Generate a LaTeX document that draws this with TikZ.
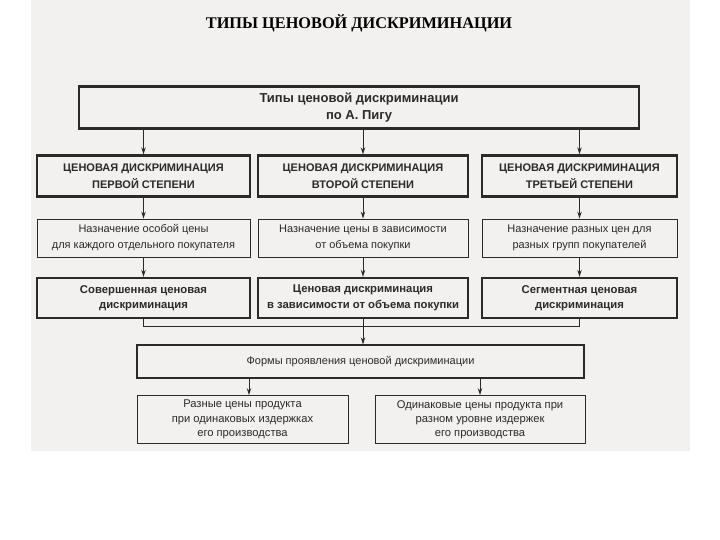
\documentclass[tikz,border=0pt]{standalone}
\usepackage{fontspec}
\setmainfont{Liberation Sans}
\newfontfamily\titlefont{Liberation Serif}
\usetikzlibrary{arrows.meta}
\definecolor{paper}{HTML}{F3F1EF}
\definecolor{ink}{HTML}{2A2A2A}
\tikzset{
  base/.style={rectangle, draw=ink, text=ink, inner sep=0pt, align=center, font=\fontsize{11}{16}\selectfont},
  thickbox/.style={base, line width=2.4pt, font=\fontsize{11}{17.5}\selectfont\bfseries},
  thinbox/.style={base, line width=0.9pt},
  conn/.style={draw=ink, line width=0.8pt},
  arr/.style={conn, -{Stealth[length=7pt,width=4.5pt]}},
}
\begin{document}
\begin{tikzpicture}[x=1pt,y=-1pt]
\useasboundingbox (0,0) rectangle (720,540);
\fill[white] (0,0) rectangle (720,540);
\fill[paper] (31,0) rectangle (690,451);
\node[text=black, font=\titlefont\fontsize{16.3}{18}\selectfont\bfseries] (title) at (359,23) {ТИПЫ ЦЕНОВОЙ ДИСКРИМИНАЦИИ};
\node[thickbox, minimum width=560, minimum height=42, font=\fontsize{13}{17}\selectfont\bfseries] (top) at (359,107.5) {Типы ценовой дискриминации\\по А. Пигу};
\node[thickbox, minimum width=213, minimum height=41] (r2a) at (143.5,176) {ЦЕНОВАЯ ДИСКРИМИНАЦИЯ\\ПЕРВОЙ СТЕПЕНИ};
\node[thickbox, minimum width=210, minimum height=41] (r2b) at (363,176) {ЦЕНОВАЯ ДИСКРИМИНАЦИЯ\\ВТОРОЙ СТЕПЕНИ};
\node[thickbox, minimum width=195, minimum height=41] (r2c) at (579.5,176) {ЦЕНОВАЯ ДИСКРИМИНАЦИЯ\\ТРЕТЬЕЙ СТЕПЕНИ};
\node[thinbox, minimum width=213, minimum height=38] (r3a) at (143.5,238) {Назначение особой цены\\для каждого отдельного покупателя};
\node[thinbox, minimum width=210, minimum height=38] (r3b) at (363,238) {Назначение цены в зависимости\\от объема покупки};
\node[thinbox, minimum width=195, minimum height=38] (r3c) at (579.5,238) {Назначение разных цен для\\разных групп покупателей};
\node[thickbox, minimum width=213, minimum height=40, font=\fontsize{11.3}{15.5}\selectfont\bfseries] (r4a) at (143.5,298) {Совершенная ценовая\\дискриминация};
\node[thickbox, minimum width=210, minimum height=40, font=\fontsize{11.3}{15.5}\selectfont\bfseries] (r4b) at (363,298) {Ценовая дискриминация\\в зависимости от объема покупки};
\node[thickbox, minimum width=195, minimum height=40, font=\fontsize{11.3}{15.5}\selectfont\bfseries] (r4c) at (579.5,298) {Сегментная ценовая\\дискриминация};
\node[thinbox, line width=1.3pt, minimum width=447, minimum height=33] (forms) at (360.5,361.5) {Формы проявления ценовой дискриминации};
\node[thinbox, minimum width=211, minimum height=48, font=\fontsize{11.2}{14.2}\selectfont] (bl) at (242.5,419.5) {Разные цены продукта\\при одинаковых издержках\\его производства};
\node[thinbox, minimum width=210, minimum height=48, font=\fontsize{11.2}{14.2}\selectfont] (br) at (480,419.5) {Одинаковые цены продукта при\\разном уровне издержек\\его производства};
\coordinate (bus) at (360,326);
\foreach \n in {a,b,c} {
  \draw[arr] (r2\n.north |- top.south) -- (r2\n.north);
  \draw[arr] (r2\n.south) -- (r3\n.north);
  \draw[arr] (r3\n.south) -- (r4\n.north);
}
\draw[conn] (r4a.south) -- (r4a.south |- bus) -- (r4c.south |- bus) -- (r4c.south);
\draw[conn] (r4b.south) -- (r4b.south |- bus);
\draw[arr] (r4b.south |- bus) -- (r4b.south |- forms.north);
\draw[arr] ([xshift=6.5pt]bl.north |- forms.south) -- ([xshift=6.5pt]bl.north);
\draw[arr] (br.north |- forms.south) -- (br.north);
\end{tikzpicture}
\end{document}
